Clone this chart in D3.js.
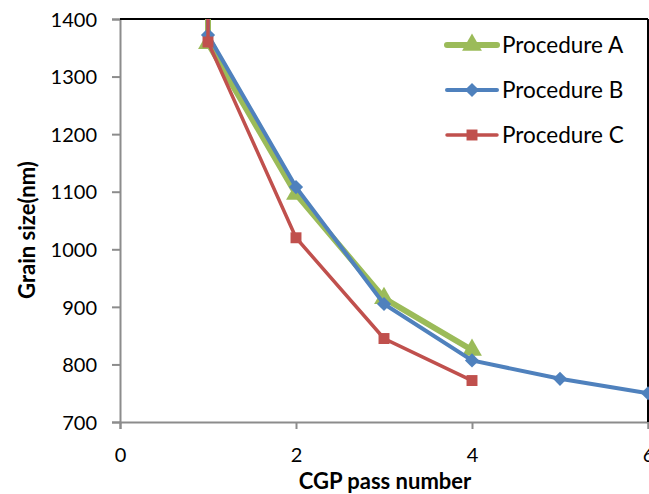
<!DOCTYPE html>
<html>
<head>
<meta charset="utf-8">
<script src="https://cdn.jsdelivr.net/npm/d3@7"></script>
<style>
  body { margin: 0; background: #fff; }
  text { font-family: Lato, "Open Sans", sans-serif; fill: #000; }
</style>
</head>
<body>
<div id="chart"></div>
<script>
// pass numbers and grain sizes
// (the first point of each series sits above 1400 and is clipped by the plot area)
let passA = [1, 1, 2, 3, 4];
let sizeA = [1500, 1358, 1096, 915, 825];
let passB = [1, 1, 2, 3, 4, 5, 6];
let sizeB = [1500, 1372, 1108, 905, 807, 775, 750];
let passC = [1, 1, 2, 3, 4];
let sizeC = [1500, 1360, 1020, 845, 772];

let seriesNames = ["Procedure A", "Procedure B", "Procedure C"];
let xTicks = [0, 2, 4, 6];
let yTicks = [700, 800, 900, 1000, 1100, 1200, 1300, 1400];

let width = 649, height = 494;
let margin = {top: 19, right: 1, bottom: 72, left: 120};
let w = width - margin.left - margin.right;
let h = height - margin.top - margin.bottom;

let svg = d3.select("#chart").append("svg")
    .attr("width", width)
    .attr("height", height);

let g = svg.append("g")
    .attr("transform", `translate(${margin.left},${margin.top})`);

let x = d3.scaleLinear().domain([0, 6]).range([0, 528]);
let y = d3.scaleLinear().domain([700, 1400]).range([h, 0]);

svg.append("clipPath").attr("id", "plotClip")
    .append("rect")
    .attr("x", -2).attr("y", 0)
    .attr("width", w + 4).attr("height", h);

// axes
let yAxis = g.append("g")
    .call(d3.axisLeft(y).tickValues(yTicks).tickFormat(d3.format("d")).tickSize(8).tickPadding(15));
let xAxis = g.append("g")
    .attr("transform", `translate(0,${h})`)
    .call(d3.axisBottom(x).tickValues(xTicks).tickFormat(d3.format("d")).tickSize(7).tickPadding(19));

[yAxis, xAxis].forEach(a => {
    a.select(".domain").attr("stroke", "#8c8c8c").attr("stroke-width", 2);
    a.selectAll(".tick line").attr("stroke", "#8c8c8c").attr("stroke-width", 2);
    a.selectAll(".tick text").style("font-size", "20px").attr("fill", "#000");
});
yAxis.selectAll(".tick text").attr("dy", "0.36em");

// top and right frame
g.append("line").attr("x1", 0).attr("x2", w).attr("y1", 0).attr("y2", 0)
    .attr("stroke", "#000").attr("stroke-width", 2);
g.append("line").attr("x1", w).attr("x2", w).attr("y1", 0).attr("y2", h)
    .attr("stroke", "#000").attr("stroke-width", 2);

// series (diamond = square turned 45 degrees)
let series = [
    {name: seriesNames[0], xs: passA, ys: sizeA, color: "#9BBB59", lw: 6, shape: d3.symbolTriangle, size: 170, rot: 0},
    {name: seriesNames[1], xs: passB, ys: sizeB, color: "#4F81BD", lw: 4, shape: d3.symbolSquare, size: 100, rot: 45},
    {name: seriesNames[2], xs: passC, ys: sizeC, color: "#C0504D", lw: 3.5, shape: d3.symbolSquare, size: 120, rot: 0}
];

let line = d3.line().x(d => x(d[0])).y(d => y(d[1]));
let plot = g.append("g").attr("clip-path", "url(#plotClip)");

series.forEach(s => {
    let pts = s.xs.map((v, i) => [v, s.ys[i]]);
    plot.append("path")
        .datum(pts)
        .attr("fill", "none")
        .attr("stroke", s.color)
        .attr("stroke-width", s.lw)
        .attr("d", line);
    plot.selectAll(null)
        .data(pts.slice(1))
        .enter()
        .append("path")
        .attr("d", d3.symbol().type(s.shape).size(s.size))
        .attr("transform", d => `translate(${x(d[0])},${y(d[1])}) rotate(${s.rot})`)
        .attr("fill", s.color);
});

// legend
let legend = svg.append("g").attr("transform", "translate(447,45)");
series.forEach((s, i) => {
    let row = legend.append("g").attr("transform", `translate(0,${i * 45})`);
    row.append("line")
        .attr("x1", 0).attr("x2", 50)
        .attr("stroke", s.color).attr("stroke-width", s.lw)
        .attr("stroke-linecap", "round");
    row.append("path")
        .attr("d", d3.symbol().type(s.shape).size(s.size))
        .attr("transform", `translate(25,0) rotate(${s.rot})`)
        .attr("fill", s.color);
    row.append("text")
        .attr("x", 55).attr("y", 8)
        .style("font-size", "22.5px")
        .text(s.name);
});

// axis titles
svg.append("text")
    .attr("x", 385).attr("y", 489)
    .attr("text-anchor", "middle")
    .style("font-size", "22px").style("font-weight", "bold")
    .text("CGP pass number");

svg.append("text")
    .attr("transform", "translate(35,230) rotate(-90)")
    .attr("text-anchor", "middle")
    .style("font-size", "22px").style("font-weight", "bold")
    .text("Grain size(nm)");
</script>
</body>
</html>
